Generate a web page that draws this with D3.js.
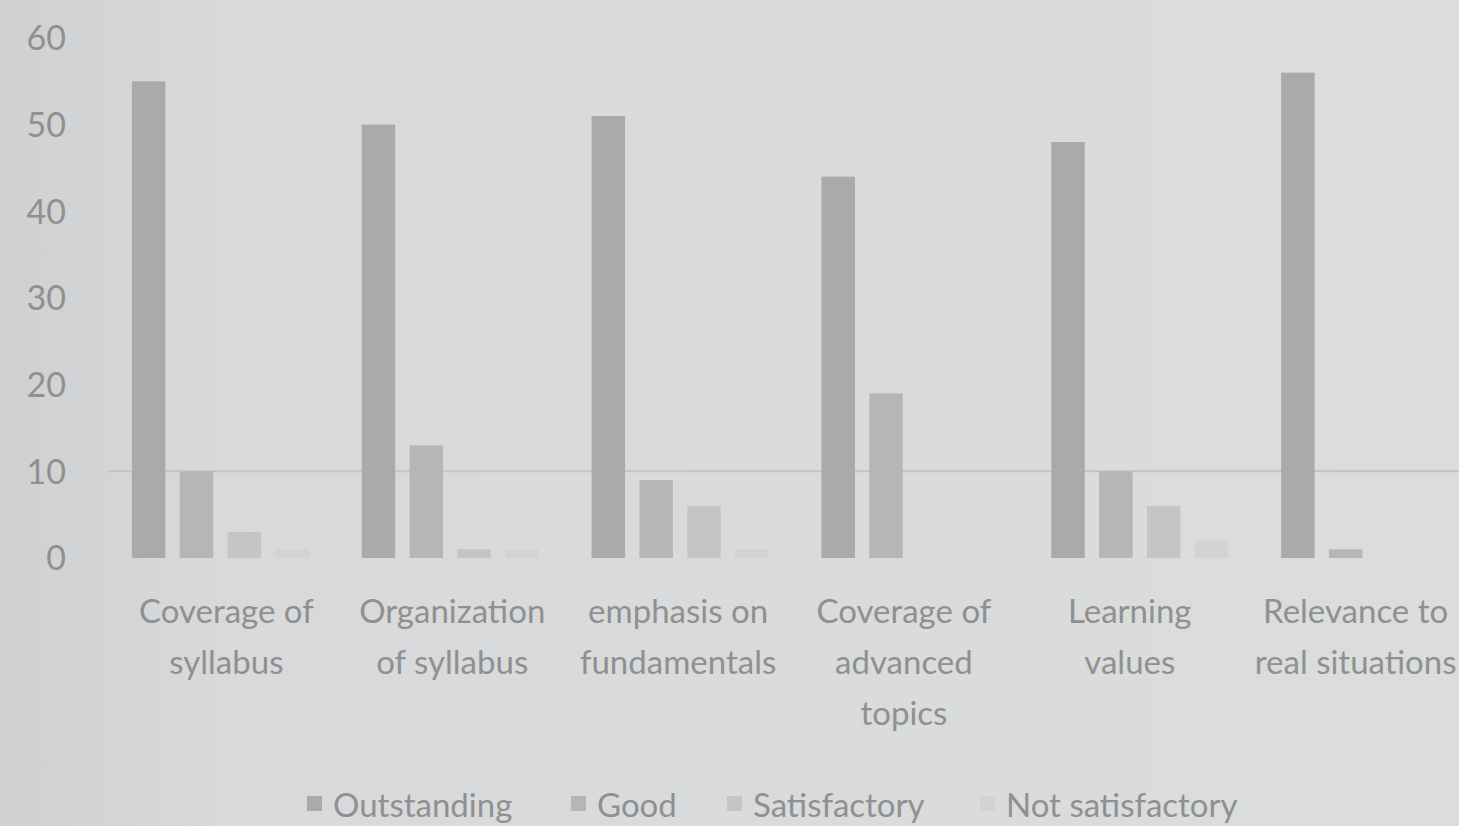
<!DOCTYPE html>
<html><head><meta charset="utf-8">
<script src="https://cdn.jsdelivr.net/npm/d3@7"></script>
<style>
html,body{margin:0;padding:0;overflow:hidden;background:#d9dadb;}
svg{display:block;}
</style></head>
<body>
<svg id="chart" width="1459" height="826"></svg>
<script>
const categories = [
  ["Coverage of","syllabus"],
  ["Organization","of syllabus"],
  ["emphasis on","fundamentals"],
  ["Coverage of","advanced","topics"],
  ["Learning","values"],
  ["Relevance to","real situations"]
];
const seriesNames = ["Outstanding","Good","Satisfactory","Not satisfactory"];
const outstanding     = [55, 50, 51, 44, 48, 56];
const good            = [10, 13, 9, 19, 10, 1];
const satisfactory    = [3, 1, 6, 0, 6, 0];
const notSatisfactory = [1, 1, 1, 0, 2, 0];
const yTicks = [0, 10, 20, 30, 40, 50, 60];
const gridValues = [10];
const seriesColors = ["#a9aaab", "#b5b6b7", "#c4c5c6", "#d2d3d4"];

const values = [outstanding, good, satisfactory, notSatisfactory];
const svg = d3.select("#chart");

const defs = svg.append("defs");
const grad = defs.append("linearGradient").attr("id","bg").attr("x1","0").attr("x2","1").attr("y1","0").attr("y2","0");
grad.append("stop").attr("offset","0").attr("stop-color","#cfd0d1");
grad.append("stop").attr("offset","0.15").attr("stop-color","#d8d9da");
grad.append("stop").attr("offset","1").attr("stop-color","#dbdcdc");
svg.append("rect").attr("width",1459).attr("height",826).attr("fill","url(#bg)");

const textColor = "#8f9091";
const font = "Lato, 'Open Sans', sans-serif";

const y = d3.scaleLinear().domain([0, 60]).range([558, 38]);
const x0 = d3.scaleBand().domain(d3.range(categories.length)).range([102, 1488]).paddingInner(0.23).paddingOuter(0.13);
const x1 = d3.scaleBand().domain(d3.range(seriesNames.length)).range([0, x0.bandwidth()]).paddingInner(0.3).paddingOuter(0);

// gridline
svg.append("g").selectAll("line").data(gridValues).join("line")
  .attr("x1", 108).attr("x2", 1459)
  .attr("y1", d => y(d)).attr("y2", d => y(d))
  .attr("stroke", "#c2c3c4").attr("stroke-width", 2);

// y axis
const yAxis = d3.axisLeft(y).tickValues(yTicks).tickSize(0).tickPadding(0);
const gy = svg.append("g").attr("transform","translate(66,0)").call(yAxis);
gy.select(".domain").remove();
gy.selectAll("text").attr("fill", textColor).style("font-family", font).style("font-size","34px").attr("dy","0.35em");

// bars
const groups = svg.append("g").selectAll("g").data(categories.map((c,i)=>i)).join("g")
  .attr("transform", i => `translate(${x0(i)},0)`);
groups.selectAll("rect").data(i => values.map((arr, s) => ({s, v: arr[i]}))).join("rect")
  .attr("x", d => x1(d.s))
  .attr("width", x1.bandwidth())
  .attr("y", d => y(d.v))
  .attr("height", d => y(0) - y(d.v))
  .attr("fill", d => seriesColors[d.s]);

// x labels
const xl = svg.append("g").selectAll("text").data(categories).join("text")
  .attr("x", (d,i) => x0(i) + x0.bandwidth()/2 + 6 - 4*i)
  .attr("y", 623)
  .attr("text-anchor","middle")
  .attr("fill", textColor)
  .style("font-family", font).style("font-size","33px");
xl.selectAll("tspan").data(d => d).join("tspan")
  .attr("x", function(){ return d3.select(this.parentNode).attr("x"); })
  .attr("dy", (d,j) => j === 0 ? 0 : 51)
  .text(d => d);

// legend
const legendX = [307, 571, 727, 980];
const lg = svg.append("g").selectAll("g").data(seriesNames).join("g")
  .attr("transform", (d,i) => `translate(${legendX[i]},805)`);
lg.append("rect").attr("x",0).attr("y",-9).attr("width",15).attr("height",15)
  .attr("fill", (d,i) => seriesColors[i]);
lg.append("text").attr("x", 26).attr("y", 0).attr("dy","0.35em")
  .attr("fill", textColor).style("font-family", font).style("font-size","33px")
  .text(d => d);
</script>
</body></html>
